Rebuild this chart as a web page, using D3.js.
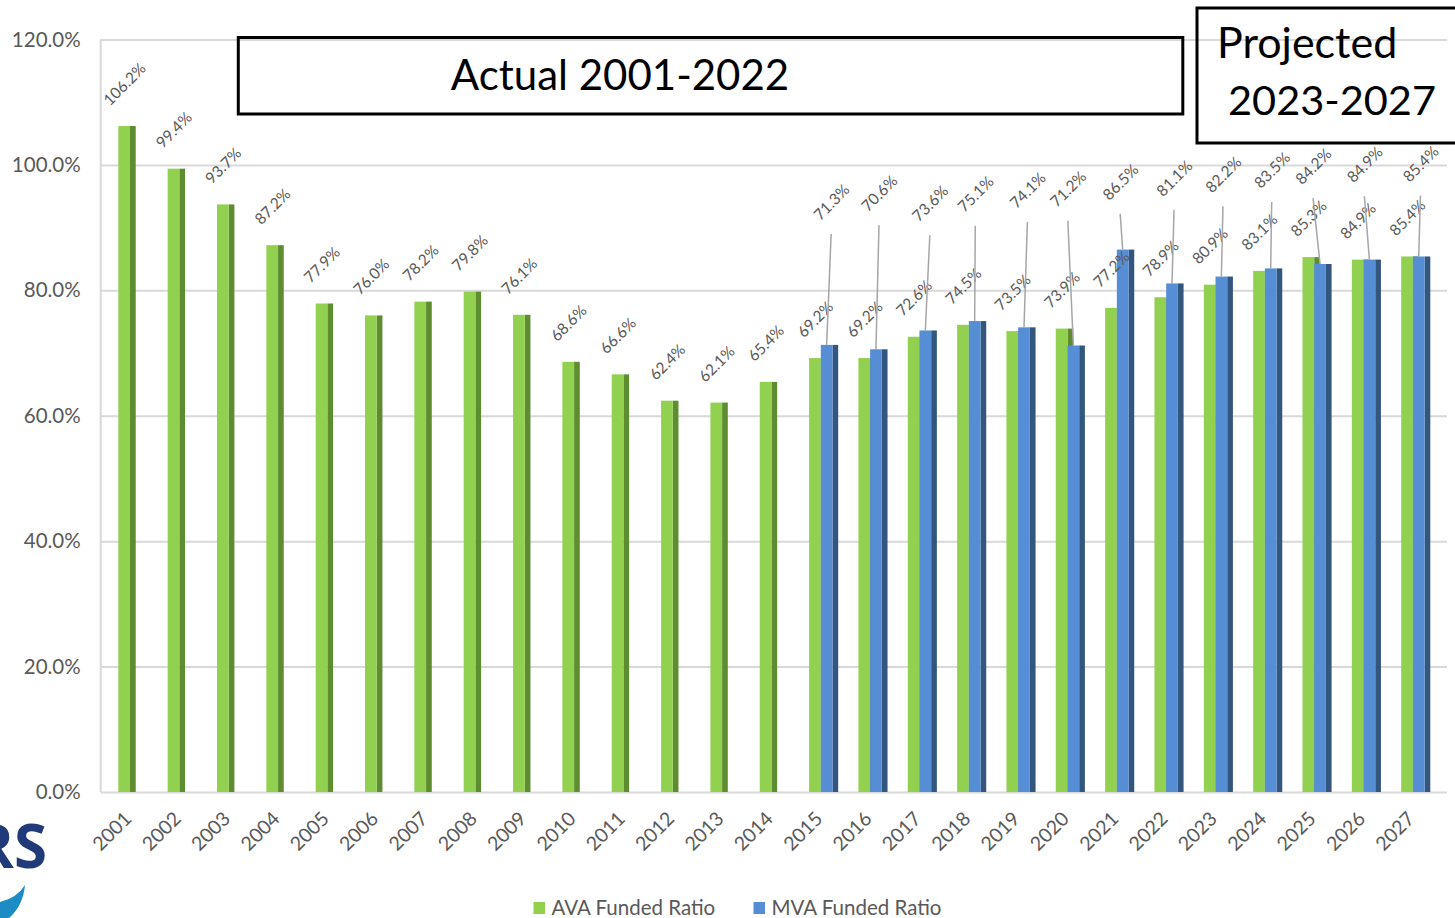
<!DOCTYPE html>
<html>
<head>
<meta charset="utf-8">
<script src="https://cdn.jsdelivr.net/npm/d3@7/dist/d3.min.js"></script>
<style>
  html, body { margin: 0; padding: 0; background: #fff; overflow: hidden; }
  svg { display: block; font-family: Lato, "Open Sans", sans-serif; }
</style>
</head>
<body>
<svg id="chart" width="1455" height="918"></svg>
<script>
// Funded ratios by valuation year (percent)
const years = ["2001","2002","2003","2004","2005","2006","2007","2008","2009","2010","2011","2012","2013","2014",
               "2015","2016","2017","2018","2019","2020","2021","2022","2023","2024","2025","2026","2027"];
const avaRatio = [106.2, 99.4, 93.7, 87.2, 77.9, 76.0, 78.2, 79.8, 76.1, 68.6, 66.6, 62.4, 62.1, 65.4,
                  69.2, 69.2, 72.6, 74.5, 73.5, 73.9, 77.2, 78.9, 80.9, 83.1, 85.3, 84.9, 85.4];
const mvaYears = ["2015","2016","2017","2018","2019","2020","2021","2022","2023","2024","2025","2026","2027"];
const mvaRatio = [71.3, 70.6, 73.6, 75.1, 74.1, 71.2, 86.5, 81.1, 82.2, 83.5, 84.2, 84.9, 85.4];
const yTicks = [0, 20, 40, 60, 80, 100, 120];
const seriesNames = ["AVA Funded Ratio", "MVA Funded Ratio"];

// Where the MVA callouts sit: height on the value axis and sideways nudge in px
const mvaLabelLevel = [89.0, 90.4, 88.8, 90.3, 90.9, 91.1, 92.2, 92.8, 93.4, 94.1, 94.7, 95.0, 95.1];
const mvaLabelShift = [4.5, 3, 4.5, 0.6, 3.4, -5.5, -2.5, 2, 1.6, 1, -7, -5, 1.7];

const colors = {
  ava: "#92d050", avaSide: "#5e8c31",
  mva: "#558ed5", mvaSide: "#33567f",
  grid: "#d9d9d9", text: "#595959", leader: "#a6a6a6"
};

const svg = d3.select("#chart");
const plotLeft = 100.7, plotRight = 1447;

const y = d3.scaleLinear().domain([0, 120]).range([792, 39.5]);
const x = d3.scaleBand().domain(years).range([108.2, 1440.4]);

const faceW = 11.7, sideW = 5.7;
const groupW = faceW * 2 + sideW;
const avaX = yr => x(yr) + (x.bandwidth() - groupW) / 2;
const mvaX = yr => avaX(yr) + faceW;

// Gridlines and value axis
const yAxis = d3.axisLeft(y).tickValues(yTicks)
  .tickSize(-(plotRight - plotLeft)).tickPadding(20)
  .tickFormat(d => d.toFixed(1) + "%");
const gy = svg.append("g").attr("transform", `translate(${plotLeft},0)`).call(yAxis);
gy.select(".domain").remove();
gy.selectAll(".tick line").attr("stroke", colors.grid).attr("stroke-width", 2);
gy.selectAll(".tick text").attr("fill", colors.text).attr("font-size", 20.5)
  .attr("font-family", "Lato, sans-serif");
svg.append("line").attr("x1", plotLeft).attr("x2", plotLeft)
  .attr("y1", y(120)).attr("y2", y(0))
  .attr("stroke", colors.grid).attr("stroke-width", 2);

// Category axis
const xAxis = d3.axisBottom(x).tickSize(0);
const gx = svg.append("g").attr("transform", `translate(0,${y(0)})`).call(xAxis);
gx.select(".domain").remove();
gx.selectAll(".tick text")
  .attr("x", 0).attr("y", 0).attr("dy", 0)
  .attr("transform", "translate(0,28) rotate(-45)")
  .attr("text-anchor", "end")
  .attr("fill", colors.text).attr("font-size", 19.5)
  .attr("font-family", "Lato, sans-serif");

// AVA bars (front face + shaded side)
const avaData = years.map((yr, i) => ({ yr, v: avaRatio[i] }));
const mvaData = mvaYears.map((yr, i) => ({ yr, v: mvaRatio[i], lvl: mvaLabelLevel[i], dx: mvaLabelShift[i] }));

const gAva = svg.append("g");
gAva.selectAll("rect.side").data(avaData).join("rect").attr("class", "side")
  .attr("x", d => avaX(d.yr) + faceW).attr("width", sideW)
  .attr("y", d => y(d.v)).attr("height", d => y(0) - y(d.v))
  .attr("fill", colors.avaSide);
gAva.selectAll("rect.face").data(avaData).join("rect").attr("class", "face")
  .attr("x", d => avaX(d.yr)).attr("width", faceW)
  .attr("y", d => y(d.v)).attr("height", d => y(0) - y(d.v))
  .attr("fill", colors.ava);

// MVA bars
const gMva = svg.append("g");
gMva.selectAll("rect.side").data(mvaData).join("rect").attr("class", "side")
  .attr("x", d => mvaX(d.yr) + faceW).attr("width", sideW)
  .attr("y", d => y(d.v)).attr("height", d => y(0) - y(d.v))
  .attr("fill", colors.mvaSide);
gMva.selectAll("rect.face").data(mvaData).join("rect").attr("class", "face")
  .attr("x", d => mvaX(d.yr)).attr("width", faceW)
  .attr("y", d => y(d.v)).attr("height", d => y(0) - y(d.v))
  .attr("fill", colors.mva);

// Rotated value label centred at (cx, cy)
function rotatedLabel(g, text, cx, cyFn) {
  const t = g.append("text")
    .attr("text-anchor", "middle").attr("dominant-baseline", "central")
    .attr("fill", colors.text).attr("font-size", 15.5)
    .attr("font-family", "Lato, sans-serif")
    .text(text);
  const len = t.node().getComputedTextLength();
  const half = (len + 11) * 0.3536;
  t.attr("transform", `translate(${cx},${cyFn(half)}) rotate(-45)`);
}

const gLabels = svg.append("g");
avaData.forEach(d => {
  rotatedLabel(gLabels, d.v.toFixed(1) + "%", avaX(d.yr) + faceW / 2, half => y(d.v) - 20 - half);
});

// MVA callouts with leader lines
mvaData.forEach(d => {
  const bx = mvaX(d.yr) + faceW / 2;
  const lx = bx + d.dx, ly = y(d.lvl);
  gLabels.append("line")
    .attr("x1", bx).attr("y1", y(d.v)).attr("x2", lx).attr("y2", ly)
    .attr("stroke", colors.leader).attr("stroke-width", 1.5);
  rotatedLabel(gLabels, d.v.toFixed(1) + "%", lx, half => ly - 13 - half);
});

// Period boxes
svg.append("rect").attr("x", 238.3).attr("y", 37.5).attr("width", 944.5).attr("height", 76.5)
  .attr("fill", "none").attr("stroke", "#000").attr("stroke-width", 3);
svg.append("text").attr("x", 620).attr("y", 90).attr("text-anchor", "middle")
  .attr("font-size", 42).attr("fill", "#000").text("Actual 2001-2022");

svg.append("rect").attr("x", 1197).attr("y", 8).attr("width", 300).attr("height", 135)
  .attr("fill", "none").attr("stroke", "#000").attr("stroke-width", 3);
svg.append("text").attr("x", 1217).attr("y", 58)
  .attr("font-size", 43).attr("fill", "#000").text("Projected");
svg.append("text").attr("x", 1228).attr("y", 115)
  .attr("font-size", 41.5).attr("fill", "#000").text("2023-2027");

// Legend
const legend = svg.append("g");
const legendItems = [
  { name: seriesNames[0], color: colors.ava, x: 533.5 },
  { name: seriesNames[1], color: colors.mva, x: 753.5 }
];
legendItems.forEach(it => {
  legend.append("rect").attr("x", it.x).attr("y", 902).attr("width", 11.5).attr("height", 12)
    .attr("fill", it.color);
  legend.append("text").attr("x", it.x + 18).attr("y", 915)
    .attr("font-size", 20.5).attr("fill", colors.text).text(it.name);
});

// Logo fragment at lower left
svg.append("text").attr("x", 47).attr("y", 868).attr("text-anchor", "end")
  .attr("font-family", "'Open Sans', sans-serif").attr("font-weight", 700)
  .attr("font-size", 60).attr("fill", "#213a7a").text("RS");
svg.append("path")
  .attr("d", "M0,902 Q17,898 25,885 Q23,906 9,918 L0,918 Z")
  .attr("fill", "#1b8cc4");
</script>
</body>
</html>
